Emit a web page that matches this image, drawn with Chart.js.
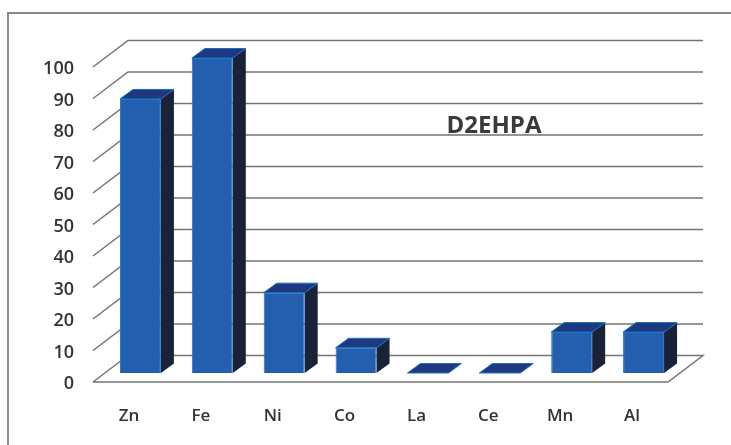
<!DOCTYPE html>
<html>
<head>
<meta charset="utf-8">
<style>
  html, body { margin: 0; padding: 0; background: #fff; }
  #wrap { position: relative; width: 731px; height: 445px; }
</style>
<script src="https://cdn.jsdelivr.net/npm/chart.js@4/dist/chart.umd.min.js"></script>
</head>
<body>
<div id="wrap"><canvas id="chart" width="731" height="445"></canvas></div>
<script>
var categories = ["Zn", "Fe", "Ni", "Co", "La", "Ce", "Mn", "Al"];
var recovery = [87, 100, 25.5, 8, 0, 0, 13, 13];
var yTicks = [0, 10, 20, 30, 40, 50, 60, 70, 80, 90, 100];

// floor depth of the 3d box, and how far into it the bars sit
var depthX = 35, depthY = 26.5;
var barDepthX = 13, barDepthY = 9.5;
var barInsetX = 11.5, barInsetY = 9;

var gridColor = "#747474";
var textColor = "#333333";
var font = "'Open Sans', sans-serif";

// frame, back wall lines and floor
var boxPlugin = {
  id: "box",
  beforeDraw: function(chart) {
    var c = chart.ctx, y = chart.scales.y, a = chart.chartArea;
    c.save();
    c.strokeStyle = "#8a8a8a";
    c.lineWidth = 2;
    c.beginPath();
    c.moveTo(8, 445);
    c.lineTo(8, 13);
    c.lineTo(731, 13);
    c.stroke();

    c.strokeStyle = gridColor;
    c.lineWidth = 1.5;
    yTicks.forEach(function(t) {
      var py = y.getPixelForValue(t);
      c.beginPath();
      c.moveTo(a.left, py);
      c.lineTo(a.left + depthX, py - depthY);
      c.lineTo(a.right + depthX, py - depthY);
      if (t === 0) {
        c.lineTo(a.right, py);
        c.lineTo(a.left, py);
      }
      c.stroke();
    });
    c.restore();
  }
};

// bars are moved into the box; side and top faces come from each bar element
var bars3d = {
  id: "bars3d",
  beforeDatasetDraw: function(chart, args) {
    var c = chart.ctx;
    c.save();
    c.translate(barInsetX, -barInsetY);
    args.meta.data.forEach(function(bar) {
      var p = bar.getProps(["x", "y", "base", "width"], true);
      var l = p.x - p.width / 2, r = p.x + p.width / 2;
      c.lineWidth = 1;
      c.fillStyle = "#1a2238";
      c.strokeStyle = "#1a6fc0";
      c.beginPath();
      c.moveTo(r, p.y);
      c.lineTo(r + barDepthX, p.y - barDepthY);
      c.lineTo(r + barDepthX, p.base - barDepthY);
      c.lineTo(r, p.base);
      c.closePath();
      c.fill();
      c.fillStyle = "#1d3a80";
      c.beginPath();
      c.moveTo(l, p.y);
      c.lineTo(l + barDepthX, p.y - barDepthY);
      c.lineTo(r + barDepthX, p.y - barDepthY);
      c.lineTo(r, p.y);
      c.closePath();
      c.fill();
      c.stroke();
    });
  },
  afterDatasetDraw: function(chart) {
    chart.ctx.restore();
  }
};

// series label placed inside the plot
var seriesLabel = {
  id: "seriesLabel",
  afterDraw: function(chart) {
    var c = chart.ctx;
    c.save();
    c.fillStyle = "#3a3a3a";
    c.font = "bold 24px " + font;
    c.textAlign = "center";
    c.textBaseline = "middle";
    c.fillText("D2EHPA", 494, 126);
    c.restore();
  }
};

new Chart(document.getElementById("chart"), {
  type: "bar",
  data: {
    labels: categories,
    datasets: [{
      label: "D2EHPA",
      data: recovery,
      backgroundColor: "#235fae",
      borderColor: "#1a7ac8",
      borderWidth: 1,
      barPercentage: 1,
      categoryPercentage: 0.57
    }]
  },
  options: {
    responsive: false,
    animation: false,
    events: [],
    layout: { padding: { left: 0, top: 67, right: 63, bottom: 0 } },
    plugins: { legend: { display: false }, tooltip: { enabled: false } },
    scales: {
      x: {
        grid: { display: false, drawTicks: false },
        border: { display: false },
        afterFit: function(axis) { axis.height = 63; },
        ticks: {
          color: textColor,
          font: { family: font, size: 17, weight: "600" },
          padding: 24,
          maxRotation: 0
        }
      },
      y: {
        min: 0,
        max: 100,
        grid: { display: false, drawTicks: false },
        border: { display: false },
        afterFit: function(axis) { axis.width = 93; },
        afterBuildTicks: function(axis) {
          axis.ticks = yTicks.map(function(v) { return { value: v }; });
        },
        ticks: {
          color: textColor,
          font: { family: font, size: 18, weight: "600" },
          padding: 19,
          labelOffset: 2
        }
      }
    }
  },
  plugins: [boxPlugin, bars3d, seriesLabel]
});
</script>
</body>
</html>
